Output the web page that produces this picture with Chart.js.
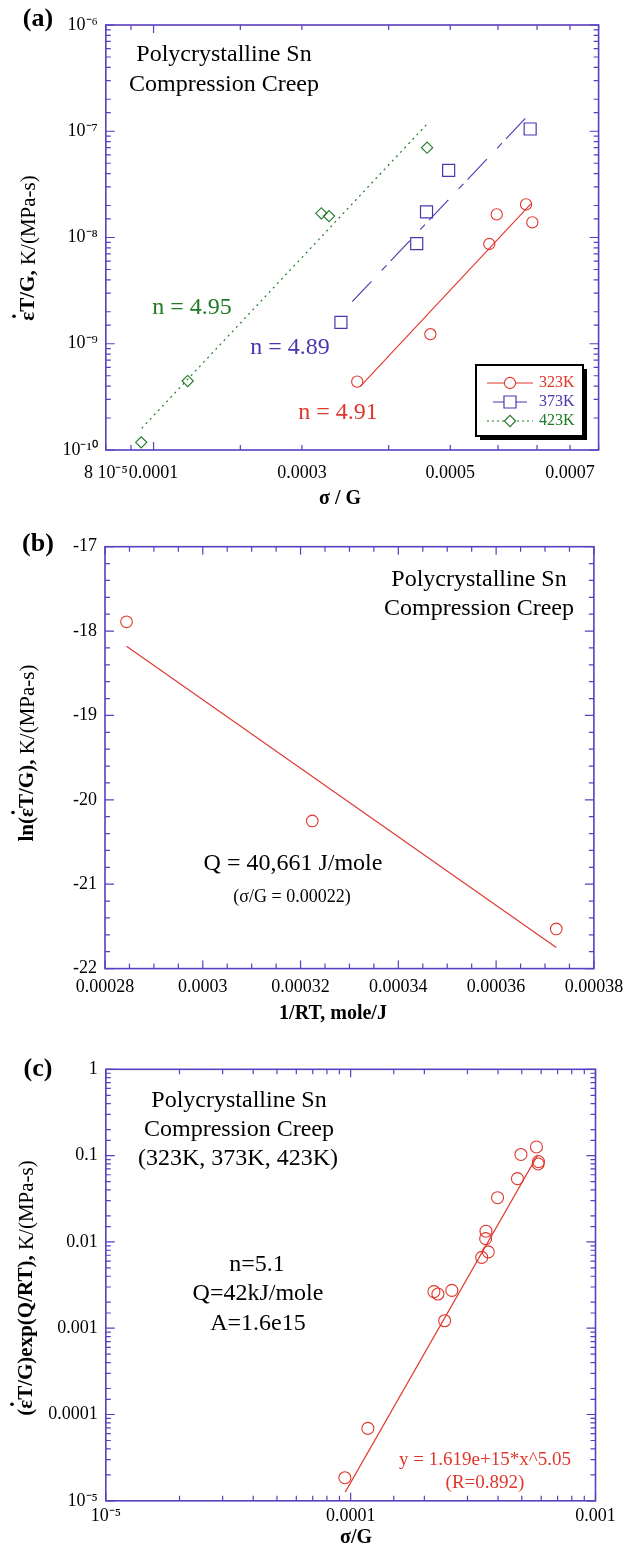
<!DOCTYPE html>
<html>
<head>
<meta charset="utf-8">
<script src="https://cdn.jsdelivr.net/npm/chart.js@4.4.0/dist/chart.umd.min.js"></script>
<style>
  body { margin: 0; background: #fff; width: 623px; height: 1549px; position: relative; overflow: hidden; }
  canvas { position: absolute; left: 0; }
</style>
</head>
<body>
<canvas id="chartA" width="623" height="515" style="top:0"></canvas>
<canvas id="chartB" width="623" height="515" style="top:515px"></canvas>
<canvas id="chartC" width="623" height="519" style="top:1030px"></canvas>
<script>
// ---- panel (a): creep rate vs sigma/G at three temperatures ----
const sg323 = [2.59e-4, 3.645e-4, 4.80e-4, 4.97e-4, 5.70e-4, 5.87e-4];
const rate323 = [4.40e-10, 1.23e-9, 8.69e-9, 1.65e-8, 2.05e-8, 1.39e-8];
const sg373 = [2.40e-4, 3.42e-4, 3.58e-4, 3.97e-4, 5.81e-4];
const rate373 = [1.59e-9, 8.74e-9, 1.74e-8, 4.29e-8, 1.05e-7];
const sg423 = [9.44e-5, 1.173e-4, 2.19e-4, 2.27e-4, 3.59e-4];
const rate423 = [1.18e-10, 4.46e-10, 1.69e-8, 1.59e-8, 7.0e-8];
// fitted lines, end points
const fit323X = [2.625e-4, 5.83e-4];
const fit323Y = [3.94e-10, 2.07e-8];
const fit373X = [2.53e-4, 5.81e-4];
const fit373Y = [2.49e-9, 1.476e-7];
const fit423X = [9.46e-5, 3.59e-4];
const fit423Y = [1.6e-10, 1.17e-7];
// x tick labels of (a) as printed in the original figure
const aXTickVals = [8e-5, 1e-4, 2e-4, 4e-4, 7e-4];
const aXTickText = ['8 10\u207B\u2075', '0.0001', '0.0003', '0.0005', '0.0007'];

// ---- panel (b): Arrhenius plot ----
const invRT = [0.0002844, 0.0003224, 0.0003723];
const lnRate = [-17.89, -20.25, -21.53];
const fitBX = [0.0002844, 0.0003723];
const fitBY = [-18.18, -21.75];

// ---- panel (c): normalised rate, all temperatures ----
const sgAll = [9.47e-5, 1.176e-4, 2.188e-4, 2.272e-4, 2.59e-4, 2.42e-4, 3.43e-4, 3.57e-4,
               3.56e-4, 3.65e-4, 3.98e-4, 4.80e-4, 4.96e-4, 5.74e-4, 5.85e-4, 5.83e-4];
const normRate = [1.85e-5, 6.9e-5, 2.65e-3, 2.49e-3, 2.74e-3, 1.22e-3, 6.61e-3, 1.33e-2,
                  1.09e-2, 7.67e-3, 3.25e-2, 5.41e-2, 1.03e-1, 0.126, 8.53e-2, 8.0e-2];
const fitCX = [9.5e-5, 5.81e-4];
const fitCY = [1.26e-5, 0.102];

const SERIF = '"Liberation Serif", "Times New Roman", serif';
const AXIS = '#5a3fc0';
const RED = '#e0362c';
const BLUE = '#4838b0';
const GREEN = '#1f7a25';

const SUP = {'-': '\u207B', '0': '\u2070', '1': '\u00B9', '2': '\u00B2', '3': '\u00B3', '4': '\u2074',
             '5': '\u2075', '6': '\u2076', '7': '\u2077', '8': '\u2078', '9': '\u2079'};
function pow10Label(v) {
  const e = Math.round(Math.log10(v));
  return '10' + String(e).split('').map(c => SUP[c]).join('');
}
function near(a, b) { return Math.abs(a - b) <= Math.abs(b) * 1e-6 + 1e-12; }
function isPow10(v) { const l = Math.log10(v); return Math.abs(l - Math.round(l)) < 1e-6; }

const pts = (xs, ys) => xs.map((x, i) => ({ x: x, y: ys[i] }));

// draws text made of parts with different fonts, optionally rotated
function drawRich(ctx, parts, x, y, rot) {
  ctx.save();
  ctx.translate(x, y);
  if (rot) ctx.rotate(rot);
  ctx.textBaseline = 'middle';
  ctx.textAlign = 'left';
  let total = 0;
  parts.forEach(p => { ctx.font = p.font; total += ctx.measureText(p.text).width; });
  let cx = -total / 2;
  parts.forEach(p => {
    ctx.font = p.font;
    ctx.fillStyle = p.color || '#000';
    ctx.fillText(p.text, cx, 0);
    const w = ctx.measureText(p.text).width;
    if (p.dot) {
      ctx.beginPath();
      ctx.arc(cx + w * 0.5, -p.dot, 1.8, 0, Math.PI * 2);
      ctx.fill();
    }
    cx += w;
  });
  ctx.restore();
}

// inward ticks on all four sides plus the frame
const frameTicks = {
  id: 'frameTicks',
  afterDraw(chart, args, opts) {
    const ctx = chart.ctx, a = chart.chartArea;
    const xs = chart.scales.x, ys = chart.scales.y;
    ctx.save();
    ctx.strokeStyle = AXIS;
    ctx.lineWidth = 1.2;
    ctx.beginPath();
    xs.ticks.forEach(t => {
      const px = xs.getPixelForValue(t.value);
      if (px < a.left - 0.5 || px > a.right + 0.5) return;
      const len = opts.majorX(t.value) ? 8 : 5;
      ctx.moveTo(px, a.bottom); ctx.lineTo(px, a.bottom - len);
      ctx.moveTo(px, a.top); ctx.lineTo(px, a.top + len);
    });
    ys.ticks.forEach(t => {
      const py = ys.getPixelForValue(t.value);
      if (py < a.top - 0.5 || py > a.bottom + 0.5) return;
      const len = opts.majorY(t.value) ? 9 : 5;
      ctx.moveTo(a.left, py); ctx.lineTo(a.left + len, py);
      ctx.moveTo(a.right, py); ctx.lineTo(a.right - len, py);
    });
    ctx.stroke();
    ctx.lineWidth = 1.6;
    ctx.strokeRect(a.left, a.top, a.right - a.left, a.bottom - a.top);
    ctx.restore();
  }
};

// free text: panel letter, axis titles, notes
const notes = {
  id: 'notes',
  afterDraw(chart, args, opts) {
    const ctx = chart.ctx;
    opts.items.forEach(it => drawRich(ctx, it.parts, it.x, it.y, it.rot || 0));
  }
};

// boxed legend with drop shadow (panel a)
const boxLegend = {
  id: 'boxLegend',
  afterDraw(chart, args, opts) {
    if (!opts.show) return;
    const ctx = chart.ctx;
    const b = opts.box;
    ctx.save();
    ctx.fillStyle = '#000';
    ctx.fillRect(b.x + 4, b.y + 4, b.w, b.h);
    ctx.fillStyle = '#fff';
    ctx.fillRect(b.x, b.y, b.w, b.h);
    ctx.strokeStyle = '#000';
    ctx.lineWidth = 2;
    ctx.strokeRect(b.x, b.y, b.w, b.h);
    opts.entries.forEach((e, i) => {
      const ds = chart.data.datasets[e.dataset];
      const y = b.y + 18 + i * 19;
      const cxm = b.x + 34;
      ctx.strokeStyle = ds.borderColor;
      ctx.lineWidth = 1.1;
      ctx.setLineDash(e.dash || []);
      ctx.beginPath();
      ctx.moveTo(cxm - e.half, y); ctx.lineTo(cxm + e.half, y);
      ctx.stroke();
      ctx.setLineDash([]);
      ctx.fillStyle = '#fff';
      ctx.strokeStyle = ds.borderColor;
      ctx.lineWidth = ds.borderWidth;
      Chart.helpers.drawPoint(ctx, {
        pointStyle: ds.pointStyle, radius: ds.pointRadius, borderWidth: ds.borderWidth, rotation: 0
      }, cxm, y);
      ctx.font = '16px ' + SERIF;
      ctx.fillStyle = ds.borderColor;
      ctx.textBaseline = 'middle';
      ctx.textAlign = 'left';
      ctx.fillText(e.label, b.x + 63, y);
    });
    ctx.restore();
  }
};

Chart.register(frameTicks, notes, boxLegend);

function tickFont() { return { family: SERIF, size: 18 }; }

function baseOptions(pad, yWidth, xHeight) {
  return {
    responsive: false,
    animation: false,
    layout: { padding: { top: pad.top, right: pad.right, left: 0, bottom: 0 } },
    plugins: { legend: { display: false }, tooltip: { enabled: false } },
    scales: {
      x: {
        grid: { display: false, drawTicks: false },
        border: { display: false },
        ticks: { autoSkip: false, maxRotation: 0, minRotation: 0, color: '#000', font: tickFont(), padding: 12 },
        afterFit(s) { s.height = xHeight; s.paddingLeft = 0; s.paddingRight = 0; }
      },
      y: {
        grid: { display: false, drawTicks: false },
        border: { display: false },
        ticks: { autoSkip: false, color: '#000', font: tickFont(), padding: 8 },
        afterFit(s) { s.width = yWidth; s.paddingTop = 0; s.paddingBottom = 0; }
      }
    }
  };
}

const B22 = 'bold 21px ' + SERIF;
const R21 = '21px ' + SERIF;
const T24 = '24px ' + SERIF;

// ---------------- panel (a) ----------------
const optA = baseOptions({ top: 25, right: 24.4 }, 105.8, 65);
Object.assign(optA.scales.x, {
  type: 'logarithmic', min: 8e-5, max: 8e-4
});
optA.scales.x.ticks.callback = function (v) {
  const i = aXTickVals.findIndex(t => near(v, t));
  return i >= 0 ? aXTickText[i] : '';
};
Object.assign(optA.scales.y, { type: 'logarithmic', min: 1e-10, max: 1e-6 });
optA.scales.y.ticks.callback = v => isPow10(v) ? pow10Label(v) : '';
optA.plugins.frameTicks = { majorX: v => near(v, 1e-4), majorY: isPow10 };
optA.plugins.notes = { items: [
  { parts: [{ text: '(a)', font: 'bold 26px ' + SERIF }], x: 38, y: 19 },
  { parts: [{ text: 'Polycrystalline Sn', font: T24 }], x: 224, y: 55 },
  { parts: [{ text: 'Compression Creep', font: T24 }], x: 224, y: 85 },
  { parts: [{ text: 'n = 4.95', font: T24, color: GREEN }], x: 192, y: 308 },
  { parts: [{ text: 'n = 4.89', font: T24, color: BLUE }], x: 290, y: 348 },
  { parts: [{ text: 'n = 4.91', font: T24, color: RED }], x: 338, y: 413 },
  { parts: [{ text: '\u03C3 / G', font: 'bold 20px ' + SERIF }], x: 340, y: 499 },
  { parts: [{ text: '\u03B5', font: B22, dot: 15 }, { text: 'T/G,', font: B22 }, { text: ' K/(MPa-s)', font: R21 }],
    x: 29, y: 248, rot: -Math.PI / 2 }
] };
optA.plugins.boxLegend = {
  show: true,
  box: { x: 476, y: 365, w: 107, h: 71 },
  entries: [
    { dataset: 0, label: '323K', half: 23 },
    { dataset: 1, label: '373K', half: 17 },
    { dataset: 2, label: '423K', half: 23, dash: [2, 3] }
  ]
};

new Chart(document.getElementById('chartA'), {
  type: 'scatter',
  data: {
    datasets: [
      { data: pts(sg323, rate323), pointStyle: 'circle', pointRadius: 5.6, borderColor: RED, backgroundColor: 'rgba(0,0,0,0)', borderWidth: 1.1 },
      { data: pts(sg373, rate373), pointStyle: 'rect', pointRadius: 8.5, borderColor: BLUE, backgroundColor: 'rgba(0,0,0,0)', borderWidth: 1.2 },
      { data: pts(sg423, rate423), pointStyle: 'rectRot', pointRadius: 5.6, borderColor: GREEN, backgroundColor: 'rgba(0,0,0,0)', borderWidth: 1.1 },
      { data: pts(fit323X, fit323Y), showLine: true, pointRadius: 0, borderColor: RED, borderWidth: 1.1 },
      { data: pts(fit373X, fit373Y), showLine: true, pointRadius: 0, borderColor: BLUE, borderWidth: 1.1, borderDash: [28, 15, 7, 6] },
      { data: pts(fit423X, fit423Y), showLine: true, pointRadius: 0, borderColor: GREEN, borderWidth: 1.2, borderDash: [2, 4] }
    ]
  },
  options: optA
});

// ---------------- panel (b) ----------------
const optB = baseOptions({ top: 31.7, right: 29.1 }, 105, 61.4);
Object.assign(optB.scales.x, { type: 'linear', min: 0.00028, max: 0.00038 });
optB.scales.x.ticks.stepSize = 0.000005;
optB.scales.x.ticks.padding = 8;
optB.scales.x.ticks.callback = function (v) {
  const k = v / 0.00002;
  return Math.abs(k - Math.round(k)) < 1e-4 ? String(parseFloat(v.toPrecision(6))) : '';
};
Object.assign(optB.scales.y, { type: 'linear', min: -22, max: -17 });
optB.scales.y.ticks.stepSize = 0.2;
optB.scales.y.ticks.callback = v => Math.abs(v - Math.round(v)) < 1e-6 ? String(Math.round(v)) : '';
optB.plugins.frameTicks = {
  majorX: v => { const k = v / 0.00002; return Math.abs(k - Math.round(k)) < 1e-4; },
  majorY: v => Math.abs(v - Math.round(v)) < 1e-6
};
optB.plugins.notes = { items: [
  { parts: [{ text: '(b)', font: 'bold 26px ' + SERIF }], x: 38, y: 29 },
  { parts: [{ text: 'Polycrystalline Sn', font: T24 }], x: 479, y: 65 },
  { parts: [{ text: 'Compression Creep', font: T24 }], x: 479, y: 94 },
  { parts: [{ text: 'Q = 40,661 J/mole', font: T24 }], x: 293, y: 349 },
  { parts: [{ text: '(\u03C3/G = 0.00022)', font: '18px ' + SERIF }], x: 292, y: 382 },
  { parts: [{ text: '1/RT, mole/J', font: 'bold 20px ' + SERIF }], x: 333, y: 499 },
  { parts: [{ text: 'ln(', font: B22 }, { text: '\u03B5', font: B22, dot: 15 }, { text: 'T/G),', font: B22 }, { text: ' K/(MPa-s)', font: R21 }],
    x: 28, y: 238, rot: -Math.PI / 2 }
] };
optB.plugins.boxLegend = { show: false };

new Chart(document.getElementById('chartB'), {
  type: 'scatter',
  data: {
    datasets: [
      { data: pts(invRT, lnRate), pointStyle: 'circle', pointRadius: 5.8, borderColor: RED, backgroundColor: 'rgba(0,0,0,0)', borderWidth: 1.1 },
      { data: pts(fitBX, fitBY), showLine: true, pointRadius: 0, borderColor: RED, borderWidth: 1.1 }
    ]
  },
  options: optB
});

// ---------------- panel (c) ----------------
const optC = baseOptions({ top: 39.3, right: 27.5 }, 105.8, 48.2);
Object.assign(optC.scales.x, { type: 'logarithmic', min: 1e-5, max: 1e-3 });
optC.scales.x.ticks.padding = 5;
optC.scales.x.ticks.callback = v => {
  if (!isPow10(v)) return '';
  return near(v, 1e-5) ? pow10Label(v) : String(parseFloat(v.toPrecision(3)));
};
Object.assign(optC.scales.y, { type: 'logarithmic', min: 1e-5, max: 1 });
optC.scales.y.ticks.callback = v => {
  if (!isPow10(v)) return '';
  return near(v, 1e-5) ? pow10Label(v) : String(parseFloat(v.toPrecision(3)));
};
optC.plugins.frameTicks = { majorX: isPow10, majorY: isPow10 };
optC.plugins.notes = { items: [
  { parts: [{ text: '(c)', font: 'bold 26px ' + SERIF }], x: 38, y: 39 },
  { parts: [{ text: 'Polycrystalline Sn', font: T24 }], x: 239, y: 71 },
  { parts: [{ text: 'Compression Creep', font: T24 }], x: 239, y: 100 },
  { parts: [{ text: '(323K, 373K, 423K)', font: T24 }], x: 238, y: 129 },
  { parts: [{ text: 'n=5.1', font: T24 }], x: 257, y: 235 },
  { parts: [{ text: 'Q=42kJ/mole', font: T24 }], x: 258, y: 264 },
  { parts: [{ text: 'A=1.6e15', font: T24 }], x: 258, y: 294 },
  { parts: [{ text: 'y = 1.619e+15*x^5.05', font: '19px ' + SERIF, color: RED }], x: 485, y: 430 },
  { parts: [{ text: '(R=0.892)', font: '19px ' + SERIF, color: RED }], x: 485, y: 453 },
  { parts: [{ text: '\u03C3/G', font: 'bold 20px ' + SERIF }], x: 356, y: 508 },
  { parts: [{ text: '(', font: B22 }, { text: '\u03B5', font: B22, dot: 15 }, { text: 'T/G)exp(Q/RT),', font: B22 }, { text: ' K/(MPa-s)', font: R21 }],
    x: 27, y: 258, rot: -Math.PI / 2 }
] };
optC.plugins.boxLegend = { show: false };

new Chart(document.getElementById('chartC'), {
  type: 'scatter',
  data: {
    datasets: [
      { data: pts(sgAll, normRate), pointStyle: 'circle', pointRadius: 6, borderColor: RED, backgroundColor: 'rgba(0,0,0,0)', borderWidth: 1.1 },
      { data: pts(fitCX, fitCY), showLine: true, pointRadius: 0, borderColor: RED, borderWidth: 1.1 }
    ]
  },
  options: optC
});
</script>
</body>
</html>
